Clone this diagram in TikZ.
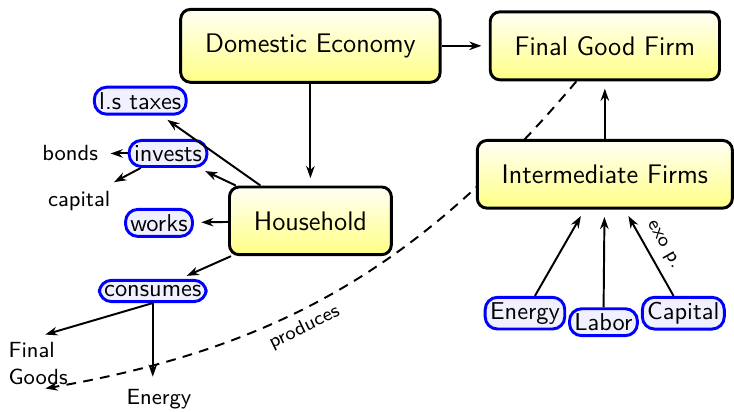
\documentclass[tikz,border=0pt]{standalone}
\usepackage{tikz}
\usetikzlibrary{positioning}
\usetikzlibrary{arrows.meta}
\usetikzlibrary{backgrounds}

\tikzset{
  bigbox/.style={draw, very thick, rounded corners=4pt, top color=yellow!4,
    bottom color=yellow!48, inner xsep=10pt, inner ysep=10pt,
    font=\sffamily\fontsize{11}{13.6}\selectfont},
  bluebox/.style={draw=blue, very thick, rounded corners=5pt, fill=blue!6,
    inner sep=2pt, font=\sffamily},
  plain/.style={font=\sffamily\small, inner sep=2pt},
  link/.style={thick, -{Stealth[length=5pt,width=3.5pt]}, shorten >=3pt},
}

\begin{document}
\begin{tikzpicture}
        \useasboundingbox (0,0) rectangle (10.57,5.92);

        % firms and household
        \node[bigbox] (dom) at (4.47,5.26) {Domestic Economy};
        \node[bigbox] (fgf) at (8.71,5.26) {Final Good Firm};
        \node[bigbox] (inter) at (8.71,3.41) {Intermediate Firms};
        \node[bigbox] (hh) at (4.47,2.74) {Household};

        % activities and inputs
        \node[bluebox] (tax) at (2.02,4.47) {l.s taxes};
        \node[bluebox] (inv) at (2.42,3.71) {invests};
        \node[bluebox] (works) at (2.29,2.71) {works};
        \node[bluebox] (cons) at (2.20,1.73) {consumes};
        \node[bluebox] (ener) at (7.56,1.41) {Energy};
        \node[bluebox] (lab) at (8.69,1.28) {Labor};
        \node[bluebox] (cap) at (9.84,1.41) {Capital};

        \node[plain] (bonds) at (1.01,3.71) {bonds};
        \node[plain] (capl) at (1.14,3.03) {capital};
        \node[plain, align=left] (fg) at (0.55,0.69) {Final\\Goods};
        \node[plain] (en) at (2.29,0.17) {Energy};

        \draw[link] (dom) -- (fgf);
        \draw[link] (dom) -- (hh);
        \draw[link] (inter) -- (fgf);
        \draw[link] (hh) -- (tax);
        \draw[link] (hh) -- (inv);
        \draw[link] (hh) -- (works);
        \draw[link] (hh) -- (cons);
        \draw[link] (inv) -- (bonds);
        \draw[link] (inv) -- (capl);
        \draw[link] (cons.south) -- (fg.north);
        \draw[link] (cons.south) -- (cons.south |- en.north);
        \draw[link] (ener) -- (inter);
        \draw[link] (lab) -- (inter);
        \draw[link] (cap) -- node[sloped, above, font=\sffamily\footnotesize] {exo p.} (inter);

        \begin{scope}[on background layer]
          \draw[link, dash pattern=on 4pt off 3pt] (fgf) to[bend left=20]
            node[pos=0.58, sloped, below, font=\sffamily\footnotesize] {produces} (fg.south);
        \end{scope}
      \end{tikzpicture}
\end{document}
